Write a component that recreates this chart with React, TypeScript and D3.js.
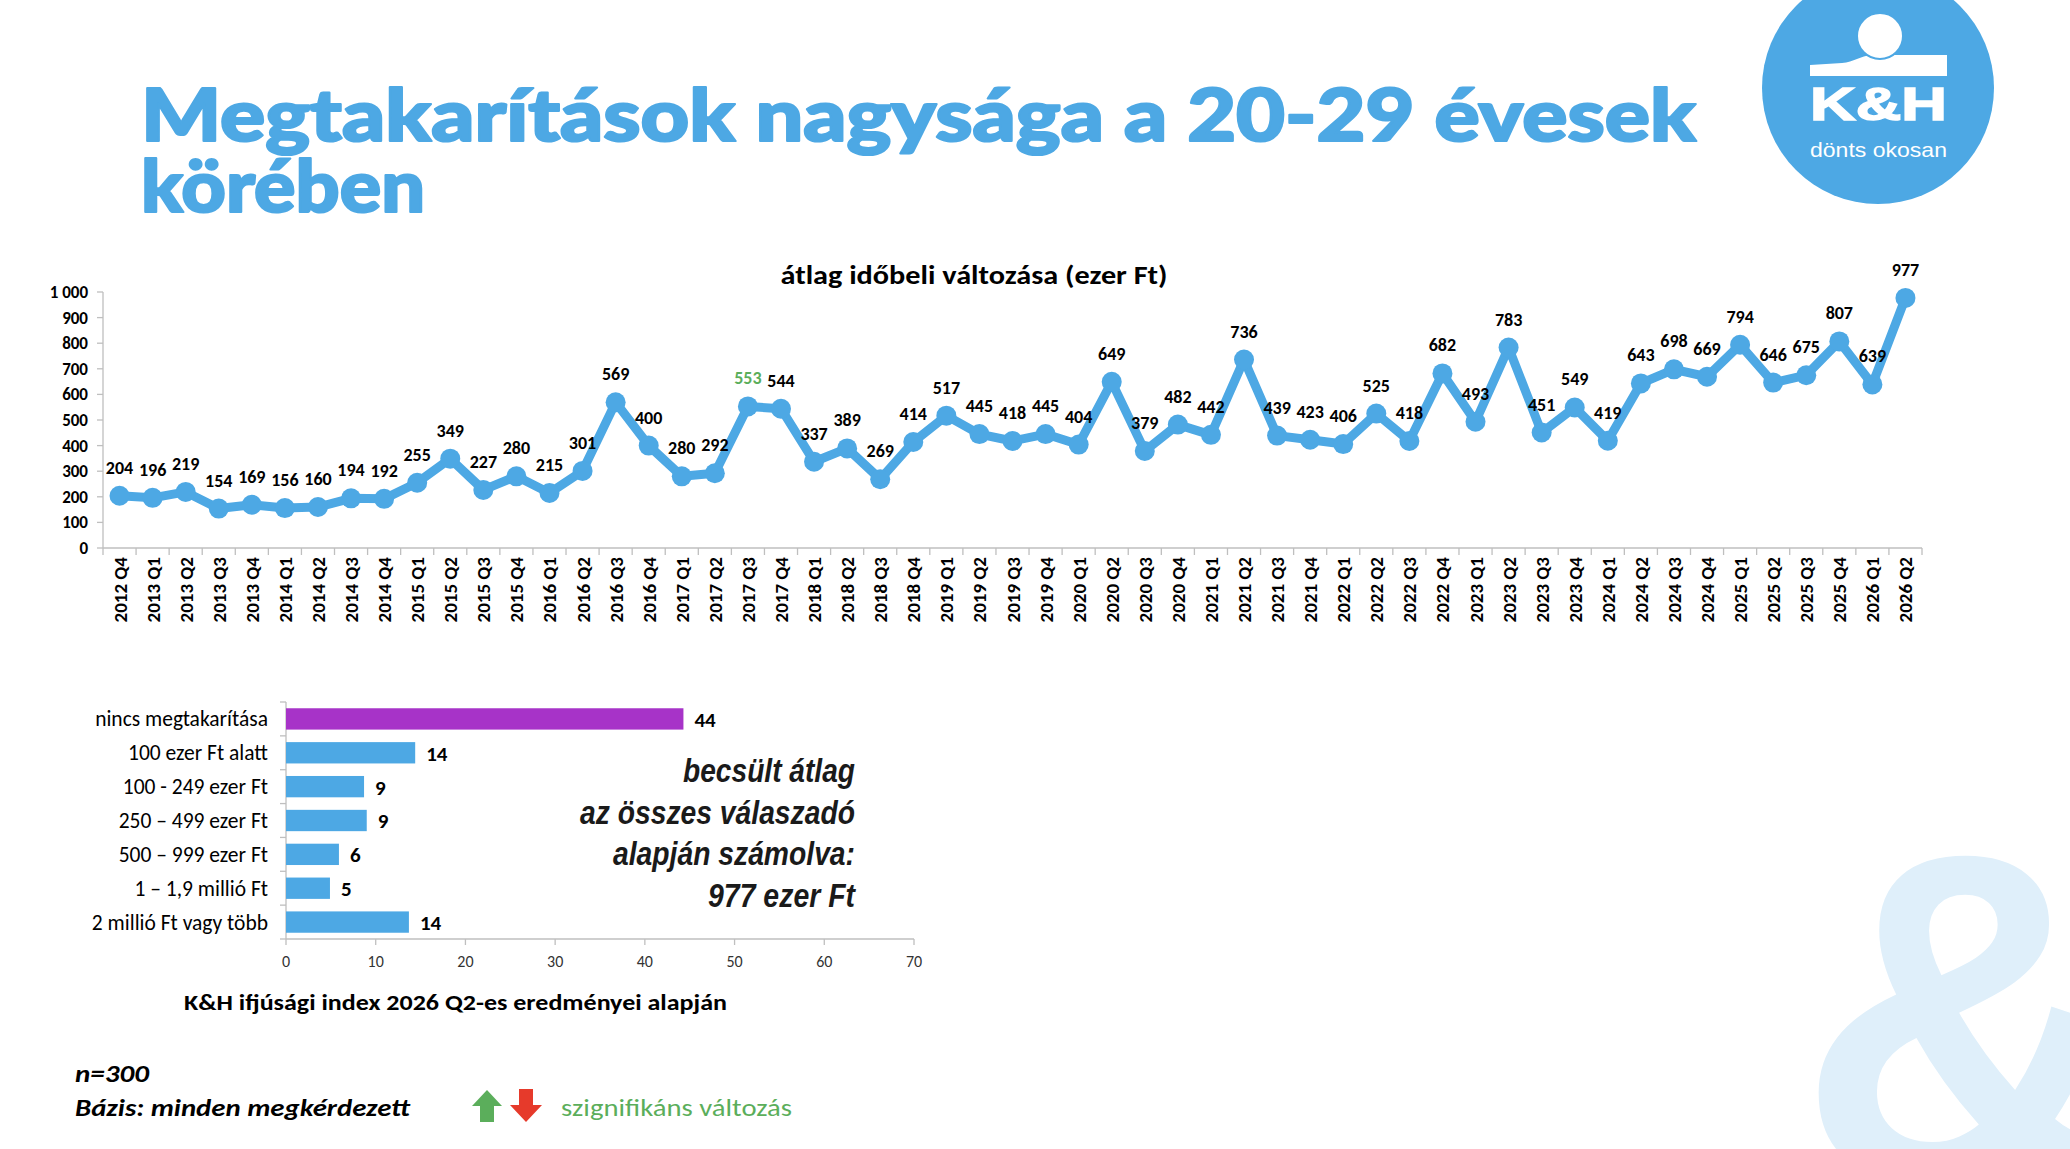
import * as React from "react";
import * as d3 from "d3";

const BLUE = "#4DA8E4";
const PURPLE = "#A733C8";
const GREEN = "#5BAE5B";
const RED = "#E63A2B";
const FONT = "Carlito, Lato, 'Open Sans', sans-serif";

// quarterly average savings, thousand HUF
const quarters = [
    "2012 Q4", "2013 Q1", "2013 Q2", "2013 Q3", "2013 Q4", "2014 Q1", "2014 Q2", "2014 Q3", "2014 Q4",
    "2015 Q1", "2015 Q2", "2015 Q3", "2015 Q4", "2016 Q1", "2016 Q2", "2016 Q3", "2016 Q4",
    "2017 Q1", "2017 Q2", "2017 Q3", "2017 Q4", "2018 Q1", "2018 Q2", "2018 Q3", "2018 Q4",
    "2019 Q1", "2019 Q2", "2019 Q3", "2019 Q4", "2020 Q1", "2020 Q2", "2020 Q3", "2020 Q4",
    "2021 Q1", "2021 Q2", "2021 Q3", "2021 Q4", "2022 Q1", "2022 Q2", "2022 Q3", "2022 Q4",
    "2023 Q1", "2023 Q2", "2023 Q3", "2023 Q4", "2024 Q1", "2024 Q2", "2024 Q3", "2024 Q4",
    "2025 Q1", "2025 Q2", "2025 Q3", "2025 Q4", "2026 Q1", "2026 Q2"
];
const averages = [
    204, 196, 219, 154, 169, 156, 160, 194, 192,
    255, 349, 227, 280, 215, 301, 569, 400,
    280, 292, 553, 544, 337, 389, 269, 414,
    517, 445, 418, 445, 404, 649, 379, 482,
    442, 736, 439, 423, 406, 525, 418, 682,
    493, 783, 451, 549, 419, 643, 698, 669,
    794, 646, 675, 807, 639, 977
];
const significant = ["2017 Q3"];
const averageTicks = [0, 100, 200, 300, 400, 500, 600, 700, 800, 900, 1000];

// distribution of savings in 2026 Q2, %
const savingBands = [
    "nincs megtakarítása",
    "100 ezer Ft alatt",
    "100 - 249 ezer Ft",
    "250 – 499 ezer Ft",
    "500 – 999 ezer Ft",
    "1 – 1,9 millió Ft",
    "2 millió Ft vagy több"
];
const shares = [44.3, 14.4, 8.7, 9.0, 5.9, 4.9, 13.7];
const shareTicks = [0, 10, 20, 30, 40, 50, 60, 70];

const estimateLines = ["becsült átlag", "az összes válaszadó", "alapján számolva:", "977 ezer Ft"];

const huFormat = d3.formatLocale({decimal: ",", thousands: " ", grouping: [3], currency: ["", ""]}).format(",");

export default function App() {
    const ref = React.useRef(null);

    React.useEffect(() => {
        const svg = d3.select(ref.current);
        svg.selectAll("*").remove();

        // ---------- watermark & logo ----------
        svg.append("text")
            .attr("x", 1798).attr("y", 1181)
            .attr("font-family", "'Liberation Sans', Arial, sans-serif")
            .attr("font-weight", "bold")
            .attr("font-size", 470)
            .attr("fill", "#DFEFFA")
            .text("&");

        const logo = svg.append("g");
        logo.append("circle").attr("cx", 1878).attr("cy", 88).attr("r", 116).attr("fill", BLUE);
        logo.append("path")
            .attr("d", "M1810,65 L1842,63 C1854,62 1860,56 1872,55 L1947,55 L1947,76 L1810,76 Z")
            .attr("fill", "#fff");
        logo.append("circle").attr("cx", 1880).attr("cy", 36).attr("r", 23)
            .attr("fill", "#fff").attr("stroke", BLUE).attr("stroke-width", 2);
        logo.append("text")
            .attr("x", 1810).attr("y", 120)
            .attr("textLength", 137).attr("lengthAdjust", "spacingAndGlyphs")
            .attr("font-family", "'Liberation Sans', Arial, sans-serif")
            .attr("font-weight", "bold").attr("font-size", 47).attr("fill", "#fff")
            .attr("stroke", "#fff").attr("stroke-width", 1.5)
            .text("K&H");
        logo.append("text")
            .attr("x", 1810).attr("y", 157)
            .attr("textLength", 137).attr("lengthAdjust", "spacingAndGlyphs")
            .attr("font-family", "'Liberation Sans', Arial, sans-serif")
            .attr("font-size", 21).attr("fill", "#fff")
            .text("dönts okosan");

        // ---------- headline ----------
        const headline = svg.append("g")
            .attr("font-family", "Lato, 'DejaVu Sans', sans-serif")
            .attr("font-weight", 900)
            .attr("font-size", 73)
            .attr("fill", BLUE)
            .attr("stroke", BLUE).attr("stroke-width", 2.2).attr("stroke-linejoin", "round");
        headline.append("text").attr("x", 141).attr("y", 141)
            .attr("textLength", 1555).attr("lengthAdjust", "spacingAndGlyphs")
            .text("Megtakarítások nagysága a 20-29 évesek");
        headline.append("text").attr("x", 141).attr("y", 212)
            .attr("textLength", 284).attr("lengthAdjust", "spacingAndGlyphs")
            .text("körében");

        // ---------- line chart ----------
        const x = d3.scaleBand().domain(quarters).range([103, 1922]);
        const y = d3.scaleLinear().domain([0, 1000]).range([548, 292]);
        const cx = d => x(d) + x.bandwidth() / 2;

        svg.append("text")
            .attr("x", 974).attr("y", 284)
            .attr("text-anchor", "middle")
            .attr("textLength", 387).attr("lengthAdjust", "spacingAndGlyphs")
            .attr("font-family", FONT).attr("font-weight", "bold").attr("font-size", 26)
            .text("átlag időbeli változása (ezer Ft)");

        const axes = svg.append("g").attr("stroke", "#BFBFBF").attr("stroke-width", 1.3);
        axes.append("line").attr("x1", 103).attr("x2", 103).attr("y1", y(1000)).attr("y2", y(0));
        axes.append("line").attr("x1", 103).attr("x2", 1922).attr("y1", y(0)).attr("y2", y(0));
        axes.selectAll(".yt").data(averageTicks).join("line")
            .attr("x1", 97).attr("x2", 103).attr("y1", d => y(d)).attr("y2", d => y(d));
        axes.selectAll(".xt").data(d3.range(quarters.length + 1)).join("line")
            .attr("x1", i => 103 + i * x.step()).attr("x2", i => 103 + i * x.step())
            .attr("y1", y(0)).attr("y2", y(0) + 7);

        svg.append("g")
            .attr("font-family", FONT).attr("font-weight", "bold").attr("font-size", 17)
            .attr("text-anchor", "end")
            .selectAll("text").data(averageTicks).join("text")
            .attr("x", 88).attr("y", d => y(d)).attr("dy", "0.35em")
            .text(d => huFormat(d));

        svg.append("g")
            .attr("font-family", FONT).attr("font-weight", "bold").attr("font-size", 19)
            .attr("text-anchor", "end")
            .selectAll("text").data(quarters).join("text")
            .attr("transform", d => `translate(${cx(d) + 7},557) rotate(-90)`)
            .text(d => d);

        const points = quarters.map((q, i) => [cx(q), y(averages[i])]);
        svg.append("path")
            .attr("d", d3.line()(points))
            .attr("fill", "none").attr("stroke", BLUE)
            .attr("stroke-width", 9).attr("stroke-linejoin", "round");
        svg.append("g").attr("fill", BLUE)
            .selectAll("circle").data(points).join("circle")
            .attr("cx", d => d[0]).attr("cy", d => d[1]).attr("r", 10);

        svg.append("g")
            .attr("font-family", FONT).attr("font-weight", "bold").attr("font-size", 18)
            .attr("text-anchor", "middle")
            .selectAll("text").data(quarters).join("text")
            .attr("x", d => cx(d)).attr("y", (d, i) => y(averages[i]) - 22)
            .attr("fill", d => significant.includes(d) ? GREEN : "#000")
            .text((d, i) => averages[i]);

        // ---------- bar chart ----------
        const bx = d3.scaleLinear().domain([0, 70]).range([286, 914]);
        const by = d3.scaleBand().domain(savingBands).range([702, 939]).paddingInner(0.37).paddingOuter(0.185);

        const baxes = svg.append("g").attr("stroke", "#BFBFBF").attr("stroke-width", 1.3);
        baxes.append("line").attr("x1", bx(0)).attr("x2", bx(0)).attr("y1", 702).attr("y2", 939);
        baxes.append("line").attr("x1", bx(0)).attr("x2", bx(70)).attr("y1", 939).attr("y2", 939);
        baxes.selectAll(".bt").data(d3.range(savingBands.length + 1)).join("line")
            .attr("x1", bx(0) - 6).attr("x2", bx(0))
            .attr("y1", i => 702 + (i * (939 - 702)) / savingBands.length)
            .attr("y2", i => 702 + (i * (939 - 702)) / savingBands.length);
        baxes.selectAll(".st").data(shareTicks).join("line")
            .attr("x1", d => bx(d)).attr("x2", d => bx(d)).attr("y1", 939).attr("y2", 945);

        svg.append("g")
            .attr("font-family", FONT).attr("font-size", 16).attr("fill", "#333")
            .attr("text-anchor", "middle")
            .selectAll("text").data(shareTicks).join("text")
            .attr("x", d => bx(d)).attr("y", 967)
            .text(d => d);

        svg.append("g")
            .selectAll("rect").data(savingBands).join("rect")
            .attr("x", bx(0)).attr("y", d => by(d))
            .attr("width", (d, i) => bx(shares[i]) - bx(0)).attr("height", by.bandwidth())
            .attr("fill", (d, i) => i === 0 ? PURPLE : BLUE);

        svg.append("g")
            .attr("font-family", FONT).attr("font-size", 21.5)
            .attr("text-anchor", "end")
            .selectAll("text").data(savingBands).join("text")
            .attr("x", 268).attr("y", d => by(d) + by.bandwidth() / 2).attr("dy", "0.35em")
            .text(d => d);

        svg.append("g")
            .attr("font-family", FONT).attr("font-weight", "bold").attr("font-size", 21)
            .selectAll("text").data(savingBands).join("text")
            .attr("x", (d, i) => bx(shares[i]) + 11).attr("y", d => by(d) + by.bandwidth() / 2).attr("dy", "0.38em")
            .text((d, i) => Math.round(shares[i]));

        const lineWidths = [172, 275, 242, 147];
        svg.append("g")
            .attr("font-family", "'Liberation Sans', Arial, sans-serif")
            .attr("font-weight", "bold").attr("font-style", "italic").attr("font-size", 34)
            .attr("fill", "#1a1a1a")
            .selectAll("text").data(estimateLines).join("text")
            .attr("x", (d, i) => 855 - lineWidths[i]).attr("y", (d, i) => 782 + i * 41.5)
            .attr("textLength", (d, i) => lineWidths[i]).attr("lengthAdjust", "spacingAndGlyphs")
            .text(d => d);

        svg.append("text")
            .attr("x", 184).attr("y", 1010)
            .attr("textLength", 543).attr("lengthAdjust", "spacingAndGlyphs")
            .attr("font-family", FONT).attr("font-weight", "bold").attr("font-size", 23)
            .text("K&H ifjúsági index 2026 Q2-es eredményei alapján");

        // ---------- footnotes ----------
        const foot = svg.append("g")
            .attr("font-family", FONT).attr("font-weight", "bold").attr("font-style", "italic").attr("font-size", 25);
        foot.append("text").attr("x", 75).attr("y", 1082)
            .attr("textLength", 74).attr("lengthAdjust", "spacingAndGlyphs").text("n=300");
        foot.append("text").attr("x", 75).attr("y", 1116)
            .attr("textLength", 335).attr("lengthAdjust", "spacingAndGlyphs").text("Bázis: minden megkérdezett");

        svg.append("path")
            .attr("d", "M487,1090 L502,1106 L494,1106 L494,1122 L480,1122 L480,1106 L472,1106 Z")
            .attr("fill", GREEN);
        svg.append("path")
            .attr("d", "M519,1089 L533,1089 L533,1105 L542,1105 L526,1122 L510,1105 L519,1105 Z")
            .attr("fill", RED);
        svg.append("text")
            .attr("x", 561).attr("y", 1116)
            .attr("textLength", 231).attr("lengthAdjust", "spacingAndGlyphs")
            .attr("font-family", FONT).attr("font-size", 25).attr("fill", GREEN)
            .text("szignifikáns változás");
    }, []);

    return (
        <div style={{position: "absolute", left: 0, top: 0}}>
            <svg ref={ref} width={2070} height={1149} style={{display: "block", background: "#fff"}}/>
        </div>
    );
}
